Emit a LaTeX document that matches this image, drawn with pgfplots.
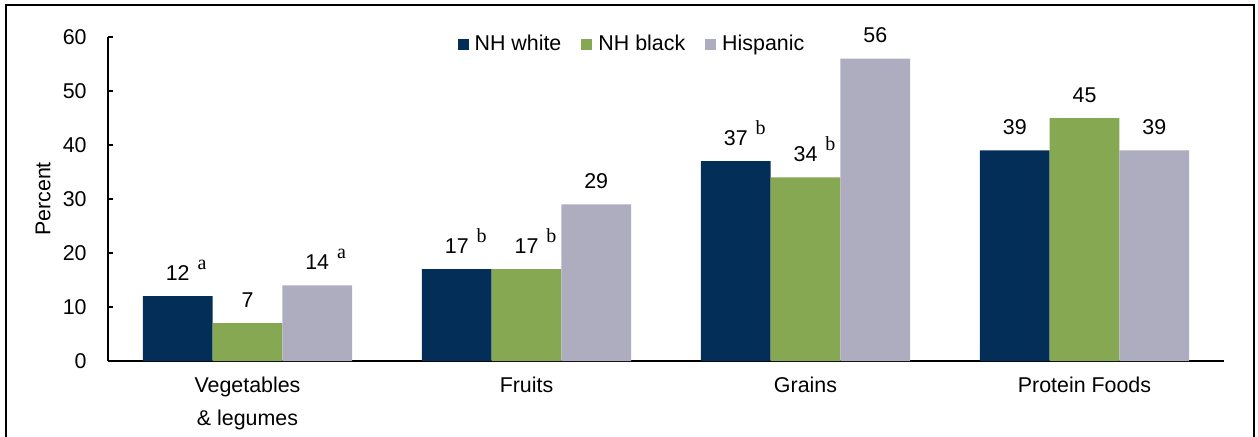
\documentclass[border=0pt]{standalone}
\usepackage{fontspec}
\setmainfont{Liberation Sans}
\newfontfamily\serifsup{Liberation Serif}
\usepackage{pgfplots}
\pgfplotsset{compat=1.18}
\definecolor{cwhite}{RGB}{3,46,87}
\definecolor{cblack}{RGB}{134,168,83}
\definecolor{chisp}{RGB}{174,173,192}
\newcommand\sps[1]{\rlap{\smash{\hspace{4pt}\raisebox{5.5pt}{\serifsup\fontsize{10}{10}\selectfont #1}}}}
\begin{document}
\begin{tikzpicture}[font=\fontsize{10.7}{12.8}\selectfont]
\path[use as bounding box] (0,0) rectangle (629pt,218pt);
\draw[line width=1pt] (3pt,-2pt) -- (3pt,215.5pt) -- (627pt,215.5pt) -- (627pt,-2pt);
\begin{axis}[
  at={(54pt,37.5pt)}, anchor=south west,
  width=558pt, height=162pt, scale only axis,
  xmin=-0.5, xmax=3.5, ymin=0, ymax=60,
  axis x line=bottom, axis y line=left,
  axis line style={line width=1pt, -},
  xtick={0,1,2,3},
  xticklabels={{Vegetables\\\& legumes},Fruits,Grains,Protein Foods},
  xticklabel style={align=center, anchor=north, inner sep=0pt, yshift=-8pt, font=\fontsize{10.7}{16.5}\selectfont},
  major x tick style={draw=none},
  ytick={0,10,20,30,40,50,60},
  yticklabel style={anchor=east, inner sep=0pt, xshift=-10.5pt},
  /pgf/number format/assume math mode=true,
  tick align=inside, major tick length=2.5pt,
  major y tick style={line width=1pt, black},
  ylabel={Percent},
  ylabel style={at={(axis description cs:-0.0582,0.5)}, anchor=center},
  point meta=explicit symbolic,
  nodes near coords,
  every node near coord/.append style={anchor=base, yshift=8pt, inner sep=0pt, font=\fontsize{10.7}{12.8}\selectfont},
  legend columns=3,
  legend style={draw=none, fill=none, at={(axis description cs:0.4695,0.978)}, anchor=center,
    /tikz/every even column/.append style={column sep=9pt},
    nodes={inner sep=1pt}},
  legend image code/.code={\fill[#1] (0pt,-2.75pt) rectangle (5.5pt,2.75pt); \path (7.5pt,0pt);},
]
\addplot[ybar, bar width=0.25, bar shift=0pt, fill=cwhite, draw=none] coordinates {
  (-0.25,12) [12\sps{a}]
  (0.75,17) [17\sps{b}]
  (1.75,37) [37\sps{b}]
  (2.75,39) [39]
};
\addlegendentry{NH white}
\addplot[ybar, bar width=0.25, bar shift=0pt, fill=cblack, draw=none] coordinates {
  (0,7) [7]
  (1,17) [17\sps{b}]
  (2,34) [34\sps{b}]
  (3,45) [45]
};
\addlegendentry{NH black}
\addplot[ybar, bar width=0.25, bar shift=0pt, fill=chisp, draw=none] coordinates {
  (0.25,14) [14\sps{a}]
  (1.25,29) [29]
  (2.25,56) [56]
  (3.25,39) [39]
};
\addlegendentry{Hispanic}
\end{axis}
\end{tikzpicture}
\end{document}
